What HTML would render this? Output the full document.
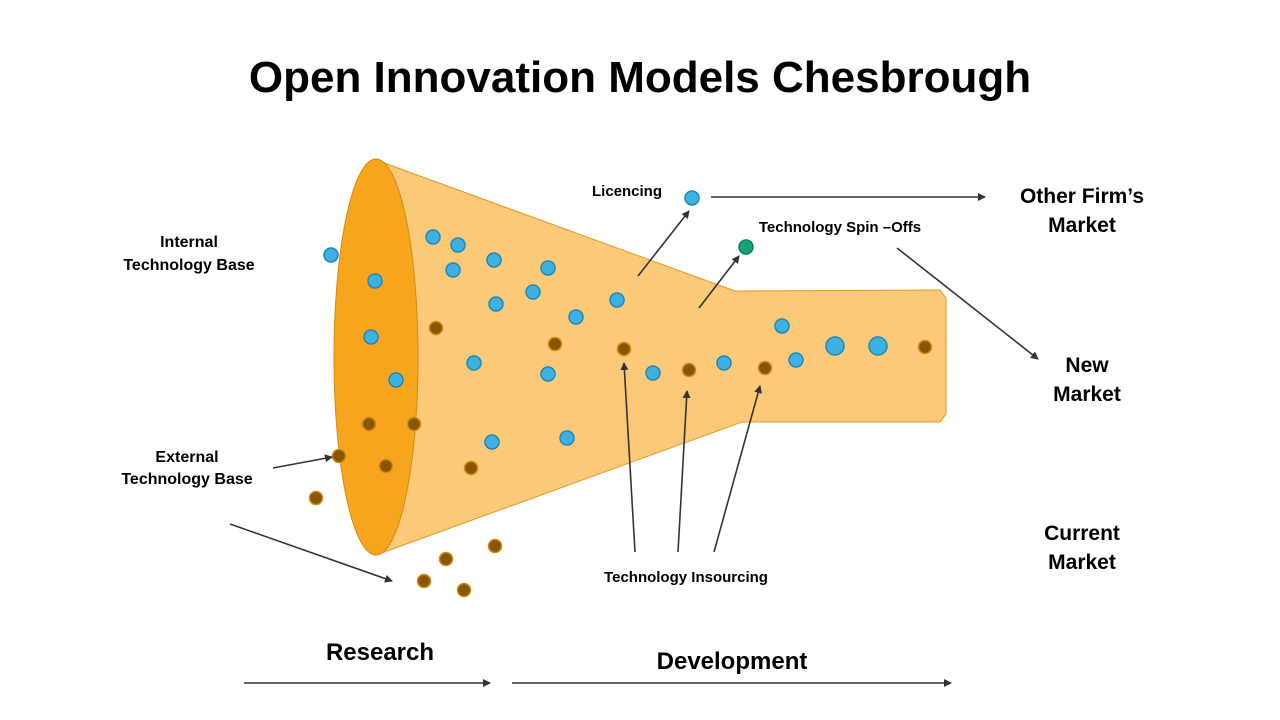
<!DOCTYPE html>
<html><head><meta charset="utf-8"><style>
body{margin:0;background:#fff;}
svg{display:block;font-family:"Liberation Sans",sans-serif;}
.t{font-weight:bold;fill:#000;}
</style></head><body>
<svg width="1280" height="720" viewBox="0 0 1280 720">
<defs><marker id="ah" markerWidth="8" markerHeight="8" refX="7" refY="4" orient="auto" markerUnits="userSpaceOnUse"><path d="M0,0 L8,4 L0,8 z" fill="#333"/></marker></defs>
<text x="640" y="92" text-anchor="middle" class="t" font-size="44">Open Innovation Models Chesbrough</text>
<path d="M376,160 L735,291 L940,290 L946,298 L946,414 L940,422 L742,422 L376,555 Z" fill="#FBC978" stroke="#E09A20" stroke-width="1"/>
<ellipse cx="376" cy="357" rx="42" ry="198" fill="#F8A51E" stroke="#D48A10" stroke-width="1"/>
<g id="dots"></g>
<g stroke="#333" stroke-width="1.6" fill="none" marker-end="url(#ah)">
<line x1="638" y1="276" x2="689" y2="211"/>
<line x1="699" y1="308" x2="739" y2="256"/>
<line x1="711" y1="197" x2="985" y2="197"/>
<line x1="897" y1="248" x2="1038" y2="359"/>
<line x1="273" y1="468" x2="332" y2="457"/>
<line x1="230" y1="524" x2="392" y2="581"/>
<line x1="635" y1="552" x2="624" y2="363"/>
<line x1="678" y1="552" x2="687" y2="391"/>
<line x1="714" y1="552" x2="760" y2="386"/>
<line x1="244" y1="683" x2="490" y2="683"/>
<line x1="512" y1="683" x2="951" y2="683"/>
</g>
<g class="t" font-size="16">
<text x="189" y="247" text-anchor="middle">Internal</text>
<text x="189" y="270" text-anchor="middle">Technology Base</text>
<text x="187" y="462" text-anchor="middle">External</text>
<text x="187" y="484" text-anchor="middle">Technology Base</text>
<text x="627" y="196" text-anchor="middle" font-size="15">Licencing</text>
<text x="840" y="232" text-anchor="middle" font-size="15">Technology Spin –Offs</text>
<text x="686" y="582" text-anchor="middle" font-size="15">Technology Insourcing</text>
</g>
<g class="t" font-size="21">
<text x="1082" y="203" text-anchor="middle">Other Firm’s</text>
<text x="1082" y="232" text-anchor="middle">Market</text>
<text x="1087" y="372" text-anchor="middle">New</text>
<text x="1087" y="401" text-anchor="middle">Market</text>
<text x="1082" y="540" text-anchor="middle">Current</text>
<text x="1082" y="569" text-anchor="middle">Market</text>
</g>
<text x="380" y="660" text-anchor="middle" class="t" font-size="24">Research</text>
<text x="732" y="669" text-anchor="middle" class="t" font-size="24">Development</text>
</svg>
<script>
const blueX=[331,375,433,458,453,494,548,496,533,617,576,371,396,474,548,492,567,653,724,782,796,835,878,692];
const blueY=[255,281,237,245,270,260,268,304,292,300,317,337,380,363,374,442,438,373,363,326,360,346,346,198];
const blueR=[7,7,7,7,7,7,7,7,7,7,7,7,7,7,7,7,7,7,7,7,7,9,9,7];
const brownX=[436,555,624,369,414,339,386,471,316,689,765,925,446,495,424,464];
const brownY=[328,344,349,424,424,456,466,468,498,370,368,347,559,546,581,590];
const g=document.getElementById('dots');
const NS='http://www.w3.org/2000/svg';
function dot(x,y,r,fill,stroke,name){const c=document.createElementNS(NS,'circle');c.setAttribute('cx',x);c.setAttribute('cy',y);c.setAttribute('r',r);c.setAttribute('fill',fill);c.setAttribute('stroke',stroke);c.setAttribute('stroke-width','1.5');


g.appendChild(c);}
blueX.forEach((x,i)=>dot(x,blueY[i],blueR[i],'#3DB2E2','#1E87B8','internal-tech-dot'));
brownX.forEach((x,i)=>dot(x,brownY[i],6.5,'#8A5500','#D08A12','external-tech-dot'));
dot(746,247,7,'#16A37A','#0E7C5C','spinoff-dot');
</script>
</body></html>
